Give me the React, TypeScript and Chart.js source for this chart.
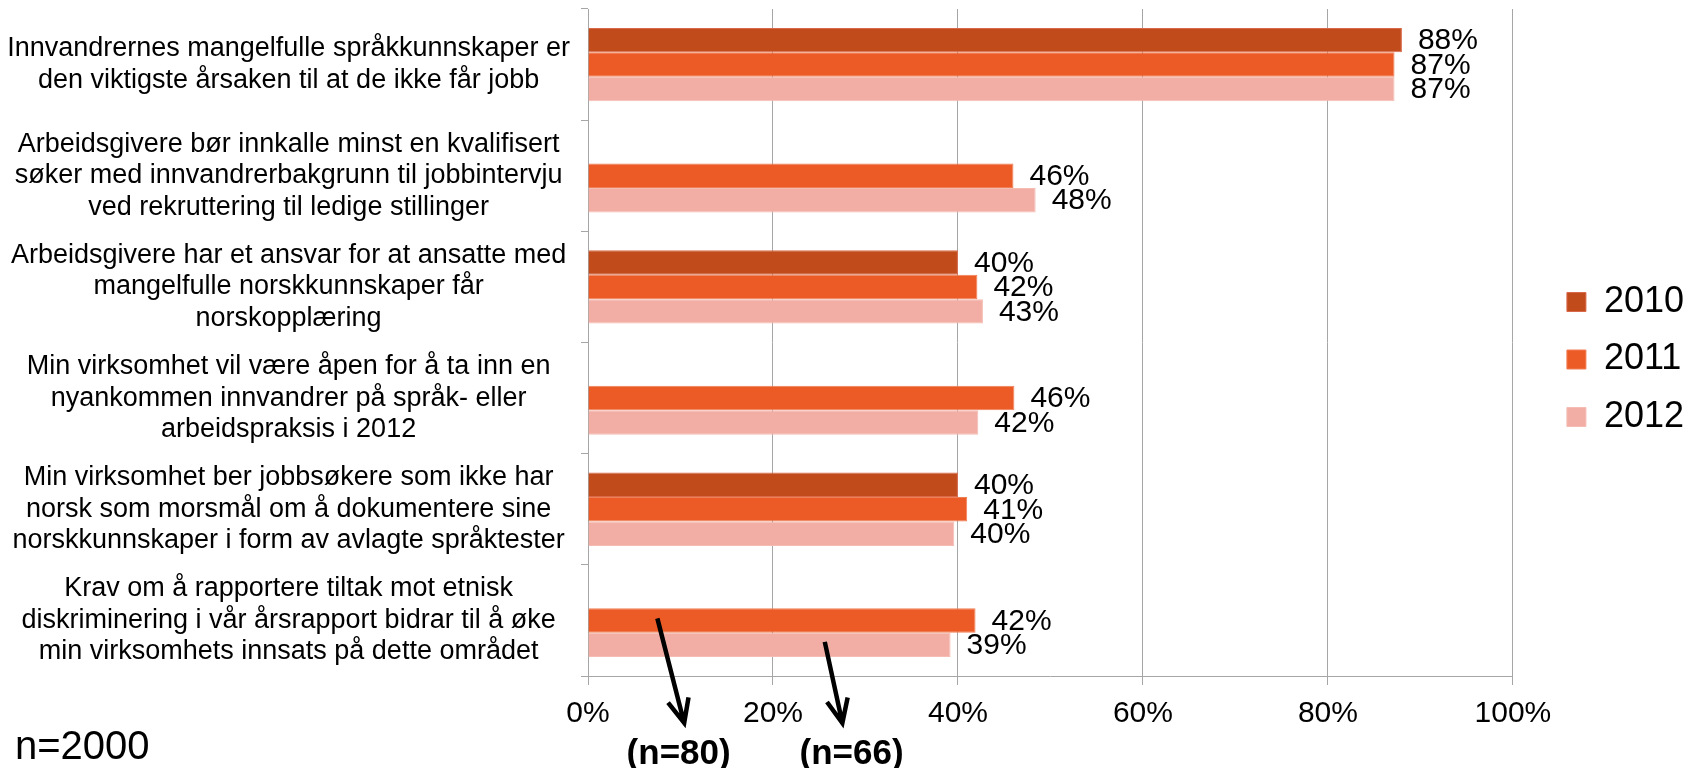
import React, { useEffect, useRef } from 'react';
import { Chart, registerables } from 'chart.js';

Chart.register(...registerables);

const FONT = '"Liberation Sans", Arial, Helvetica, sans-serif';

const categories: string[][] = [
  ['Innvandrernes mangelfulle språkkunnskaper er', 'den viktigste årsaken til at de ikke får jobb'],
  ['Arbeidsgivere bør innkalle minst en kvalifisert', 'søker med innvandrerbakgrunn til jobbintervju', 'ved rekruttering til ledige stillinger'],
  ['Arbeidsgivere har et ansvar for at ansatte med', 'mangelfulle norskkunnskaper får', 'norskopplæring'],
  ['Min virksomhet vil være åpen for å ta inn en', 'nyankommen innvandrer på språk- eller', 'arbeidspraksis i 2012'],
  ['Min virksomhet ber jobbsøkere som ikke har', 'norsk som morsmål om å dokumentere sine', 'norskkunnskaper i form av avlagte språktester'],
  ['Krav om å rapportere tiltak mot etnisk', 'diskriminering i vår årsrapport bidrar til å øke', 'min virksomhets innsats på dette området'],
];

const seriesNames = ['2010', '2011', '2012'];
const values2010: (number | null)[] = [88.0, null, 40.0, null, 40.0, null];
const values2011: (number | null)[] = [87.2, 46.0, 42.1, 46.1, 41.0, 41.9];
const values2012: (number | null)[] = [87.2, 48.4, 42.7, 42.2, 39.6, 39.2];
const seriesColors = ['#C24B1C', '#EC5B26', '#F2AEA4'];
const seriesBorders = ['#D9694A', '#F07E55', '#F4BCB3'];

const xTickMin = 0;
const xTickMax = 100;
const xTickStep = 20;

const sampleNote = 'n=2000';
const subgroupNotes = ['(n=80)', '(n=66)'];

function drawArrow(ctx: CanvasRenderingContext2D, x1: number, y1: number, x2: number, y2: number) {
  const ang = Math.atan2(y2 - y1, x2 - x1);
  const head = 26;
  const spread = (24 * Math.PI) / 180;
  ctx.beginPath();
  ctx.moveTo(x1, y1);
  ctx.lineTo(x2, y2);
  ctx.moveTo(x2 - head * Math.cos(ang - spread), y2 - head * Math.sin(ang - spread));
  ctx.lineTo(x2, y2);
  ctx.lineTo(x2 - head * Math.cos(ang + spread), y2 - head * Math.sin(ang + spread));
  ctx.stroke();
}

const annotatePlugin = {
  id: 'annotatePlugin',
  afterLayout(chart: any) {
    // let the x tick labels extend below the (shortened) axis box without clipping
    const xs = chart.scales.x;
    xs.bottom = chart.height;
    xs.height = xs.bottom - xs.top;
  },
  afterDatasetsDraw(chart: any) {
    const ctx: CanvasRenderingContext2D = chart.ctx;
    ctx.save();
    ctx.font = `30px ${FONT}`;
    ctx.fillStyle = '#000';
    ctx.textBaseline = 'middle';
    ctx.textAlign = 'left';
    chart.data.datasets.forEach((ds: any, di: number) => {
      const meta = chart.getDatasetMeta(di);
      meta.data.forEach((bar: any, i: number) => {
        const v = ds.data[i];
        if (v == null) return;
        ctx.fillText(Math.round(v) + '%', bar.x + 16, bar.y + 1);
      });
    });
    ctx.restore();
  },
  afterDraw(chart: any) {
    const ctx: CanvasRenderingContext2D = chart.ctx;
    const xs = chart.scales.x;
    const area = chart.chartArea;
    const last = categories.length - 1;
    const bar2011 = chart.getDatasetMeta(1).data[last];
    const bar2012 = chart.getDatasetMeta(2).data[last];
    ctx.save();
    ctx.strokeStyle = '#000';
    ctx.lineWidth = 4.5;
    ctx.lineCap = 'butt';
    ctx.lineJoin = 'miter';
    drawArrow(ctx, xs.getPixelForValue(7.5), bar2011.y - 2, xs.getPixelForValue(10.4), area.bottom + 47);
    drawArrow(ctx, xs.getPixelForValue(25.6), bar2012.y - 3, xs.getPixelForValue(27.5), area.bottom + 47);

    ctx.fillStyle = '#000';
    ctx.textBaseline = 'alphabetic';
    ctx.textAlign = 'center';
    ctx.font = `bold 35px ${FONT}`;
    ctx.fillText(subgroupNotes[0], xs.getPixelForValue(9.8), area.bottom + 88);
    ctx.fillText(subgroupNotes[1], xs.getPixelForValue(28.5), area.bottom + 88);

    ctx.textAlign = 'left';
    ctx.font = `40px ${FONT}`;
    ctx.fillText(sampleNote, 15, area.bottom + 83);
    ctx.restore();
  },
};

export default function App() {
  const ref = useRef<HTMLCanvasElement>(null);

  useEffect(() => {
    if (!ref.current) return;
    const seriesValues = [values2010, values2011, values2012];
    const chart = new Chart(ref.current, {
      type: 'bar',
      data: {
        labels: categories,
        datasets: seriesNames.map((name, i) => ({
          label: name,
          data: seriesValues[i],
          backgroundColor: seriesColors[i],
          borderColor: seriesBorders[i],
          borderWidth: 1,
          categoryPercentage: 0.66,
          barPercentage: 1.0,
        })),
      },
      options: {
        indexAxis: 'y',
        animation: false,
        responsive: true,
        maintainAspectRatio: false,
        layout: { padding: { left: 0, top: 9, right: 0, bottom: 58 } },
        plugins: {
          legend: {
            position: 'right',
            align: 'center',
            labels: {
              boxWidth: 19,
              boxHeight: 19,
              padding: 21.5,
              color: '#000',
              font: { size: 36, family: FONT },
            },
          },
          tooltip: { enabled: false },
        },
        scales: {
          x: {
            type: 'linear',
            min: xTickMin,
            max: xTickMax,
            ticks: {
              stepSize: xTickStep,
              callback: (v: any) => v + '%',
              color: '#000',
              font: { size: 30, family: FONT },
              padding: 11,
            },
            grid: { color: '#A6A6A6', lineWidth: 1, tickLength: 9 },
            border: { color: '#A6A6A6', width: 1 },
            afterFit: (s: any) => {
              s.height = 34;
            },
          },
          y: {
            type: 'category',
            position: 'left',
            ticks: {
              color: '#000',
              font: { size: 27, family: FONT, lineHeight: 1.17 },
              crossAlign: 'center',
              padding: 11,
              autoSkip: false,
            },
            grid: { drawOnChartArea: false, tickLength: 7, color: '#A6A6A6', offset: true },
            border: { color: '#A6A6A6', width: 1 },
            afterFit: (s: any) => {
              s.width = 588;
              s.paddingTop = 0;
              s.paddingBottom = 0;
            },
          },
          y2: {
            type: 'category',
            position: 'right',
            display: true,
            grid: { display: false },
            ticks: { display: false },
            border: { display: false },
            afterFit: (s: any) => {
              s.width = 32.5;
              s.paddingTop = 0;
              s.paddingBottom = 0;
            },
          },
        },
      } as any,
      plugins: [annotatePlugin],
    });
    return () => chart.destroy();
  }, []);

  return (
    <div style={{ position: 'fixed', left: 0, top: 0, width: 1694, height: 768, background: '#fff' }}>
      <canvas ref={ref} />
    </div>
  );
}
